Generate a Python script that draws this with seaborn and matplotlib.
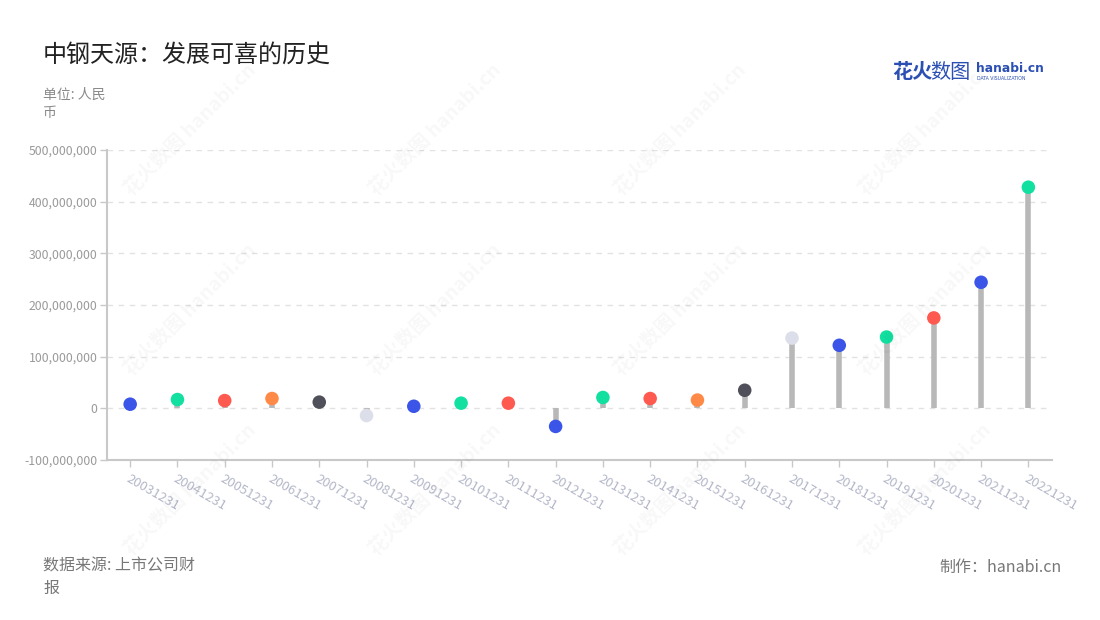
import matplotlib
matplotlib.use("Agg")
import matplotlib.pyplot as plt
import seaborn as sns
import pandas as pd
from matplotlib.ticker import FuncFormatter

years = ["20031231", "20041231", "20051231", "20061231", "20071231", "20081231",
         "20091231", "20101231", "20111231", "20121231", "20131231", "20141231",
         "20151231", "20161231", "20171231", "20181231", "20191231", "20201231",
         "20211231", "20221231"]
values = [8e6, 17e6, 15e6, 19e6, 12e6, -14e6, 4e6, 10e6, 10e6, -35e6,
          21e6, 19e6, 16e6, 35e6, 136e6, 122e6, 138e6, 175e6, 244e6, 428e6]
point_colors = ["#3a55e8", "#12e0a0", "#ff5a4f", "#ff8a48", "#50505a", "#dcdee9",
                "#3a55e8", "#12e0a0", "#ff5a4f", "#3a55e8", "#12e0a0", "#ff5a4f",
                "#ff8a48", "#50505a", "#dcdee9", "#3a55e8", "#12e0a0", "#ff5a4f",
                "#3a55e8", "#12e0a0"]
yticks = [-100e6, 0, 100e6, 200e6, 300e6, 400e6, 500e6]

title = "中钢天源：发展可喜的历史"
unit = "单位: 人民\n币"
source = "数据来源: 上市公司财\n报"
maker = "制作：hanabi.cn"

sns.set_theme(style="white")
plt.rcParams["font.family"] = ["Noto Sans CJK SC", "DejaVu Sans"]

df = pd.DataFrame({"year": years, "value": values})
df["x"] = range(len(years))
palette = dict(zip(years, point_colors))

fig = plt.figure(figsize=(11, 6.2), dpi=100)
ax = fig.add_axes([107 / 1100, 1 - 460 / 620, (1052 - 107) / 1100, (460 - 150) / 620])

# watermarks
for cx in [190, 435, 680, 925]:
    for cy in [130, 310, 490]:
        fig.text(cx / 1100, 1 - cy / 620, "花火数图 hanabi.cn", rotation=45,
                 ha="center", va="center", fontsize=14, fontweight="bold",
                 color="#000000", alpha=0.03, zorder=0)

ax.set_ylim(-100e6, 500e6)
ax.set_xlim(-0.49, 19.5)
ax.set_yticks(yticks)
ax.yaxis.grid(True, linestyle=(0, (4, 4)), color="#e2e2e2", linewidth=1)
ax.set_axisbelow(True)

ax.vlines(df["x"], 0, df["value"], color="#b8b8b8", linewidth=4, zorder=2)
sns.scatterplot(data=df, x="x", y="value", hue="year", palette=palette,
                s=95, edgecolor="none", legend=False, ax=ax, zorder=3)

ax.set_xticks(df["x"])
ax.set_xticklabels(years, rotation=-30, ha="left", va="top", rotation_mode="anchor",
                   color="#b4b7c9", fontsize=9.5)
ax.yaxis.set_major_formatter(FuncFormatter(lambda v, p: f"{int(v):,}"))
for lab in ax.get_yticklabels():
    lab.set_color("#9a9a9a")
    lab.set_fontsize(8.8)
ax.tick_params(axis="x", length=5, color="#c8c8c8", width=1, pad=4, bottom=True)
ax.tick_params(axis="y", length=5, color="#c8c8c8", width=1, pad=2, left=True)
ax.set_xlabel("")
ax.set_ylabel("")
for s in ["top", "right"]:
    ax.spines[s].set_visible(False)
for s in ["left", "bottom"]:
    ax.spines[s].set_color("#c8c8c8")
    ax.spines[s].set_linewidth(1.5)

fig.text(43 / 1100, 1 - 55 / 620, title, fontsize=17.3, color="#222222", va="center", ha="left")
fig.text(43 / 1100, 1 - 88 / 620, unit, fontsize=10, color="#8a8a8a", va="top", ha="left",
         linespacing=1.35)
fig.text(43 / 1100, 1 - 558 / 620, source, fontsize=11.5, color="#777777", va="top", ha="left",
         linespacing=1.4)
fig.text(1062 / 1100, 1 - 567 / 620, maker, fontsize=11.5, color="#777777", va="center", ha="right")

# logo
fig.text(892 / 1100, 1 - 72 / 620, "花火", fontsize=14.5, fontweight="bold", color="#2b4fb3",
         va="center", ha="left")
fig.text(930 / 1100, 1 - 72 / 620, "数图", fontsize=14.5, color="#2b4fb3", va="center", ha="left")
fig.text(976 / 1100, 1 - 69 / 620, "hanabi.cn", fontsize=8.8, fontweight="bold", color="#2b4fb3",
         va="center", ha="left", family=["DejaVu Sans"])
fig.text(977 / 1100, 1 - 79 / 620, "DATA VISUALIZATION", fontsize=3.3, color="#2b4fb3",
         va="center", ha="left", family=["DejaVu Sans"])

fig.savefig("out.png", dpi=100, facecolor="white")
